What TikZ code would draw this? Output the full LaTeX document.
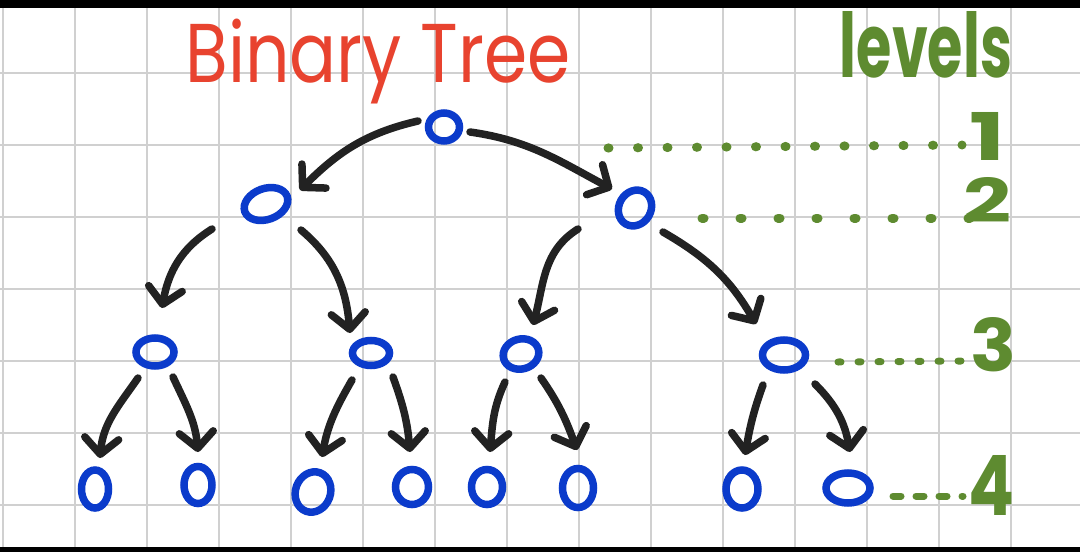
\documentclass[tikz,border=0pt]{standalone}
\usepackage{fontspec}
\setmainfont{Poppins}
\usetikzlibrary{shapes.geometric,arrows.meta}
\definecolor{nblue}{HTML}{0B3BCB}
\definecolor{ink}{HTML}{222222}
\definecolor{tred}{HTML}{E8432F}
\definecolor{lgreen}{HTML}{5E8B30}
\definecolor{gridc}{HTML}{D0D0D0}
\begin{document}
\begin{tikzpicture}[x=1pt,y=1pt,
  gridline/.style={draw=gridc,line width=1.8pt},
  onode/.style={ellipse,draw=nblue,line width=7.5pt,inner sep=0pt},
  arr/.style={draw=ink,line width=7.5pt,line cap=round,line join=round,
    -{Straight Barb[length=16pt,width=34pt,round]}},
  txt/.style={inner sep=0pt,outer sep=0pt,font=\bfseries},
  dots/.style={draw=lgreen,line width=9pt,line cap=round},
]
\useasboundingbox (0,0) rectangle (1080,-552);
\fill[white] (0,0) rectangle (1080,-552);
% grid
\foreach \k in {0,...,14} \draw[gridline] ({3+72*\k},0) -- ({3+72*\k},-552);
\foreach \k in {0,...,7} \draw[gridline] (0,{-1-72*\k}) -- (1080,{-1-72*\k});
% black bars
\fill[black] (0,0) rectangle (1080,-8);
\fill[black] (0,-547) rectangle (1080,-552);

% titles
\node[txt,text=tred,font=\mdseries] (title) at (378,-62) {\resizebox*{385pt}{85pt}{Binary Tree}};
\node[txt,text=lgreen] (lv) at (926,-45) {\resizebox{172pt}{66pt}{levels}};
\node[txt,text=lgreen] (n1) at (988,-136) {\resizebox{36pt}{48pt}{1}};
\node[txt,text=lgreen] (n2) at (988,-200) {\resizebox{48pt}{45pt}{2}};
\node[txt,text=lgreen] (n3) at (994,-345) {\resizebox{46pt}{54pt}{3}};
\node[txt,text=lgreen] (n4) at (991,-485) {\resizebox{46pt}{60pt}{4}};

% nodes
\node[onode,minimum width=31,minimum height=28] (r) at (444,-127) {};
\node[onode,minimum width=45,minimum height=31,rotate=20] (a) at (266,-204) {};
\node[onode,minimum width=37,minimum height=32,rotate=60] (b) at (635,-208) {};
\node[onode,minimum width=38,minimum height=28] (c1) at (155,-352) {};
\node[onode,minimum width=37,minimum height=25] (c2) at (371,-353) {};
\node[onode,minimum width=36,minimum height=30,rotate=15] (c3) at (521,-354) {};
\node[onode,minimum width=43,minimum height=30] (c4) at (784,-355) {};
\node[onode,minimum width=27,minimum height=38] (d1) at (95,-489) {};
\node[onode,minimum width=28,minimum height=37] (d2) at (198,-485) {};
\node[onode,minimum width=35,minimum height=41,rotate=-20] (d3) at (313,-492) {};
\node[onode,minimum width=33,minimum height=35] (d4) at (412,-487) {};
\node[onode,minimum width=31,minimum height=35] (d5) at (487,-487) {};
\node[onode,minimum width=31,minimum height=39] (d6) at (578,-488) {};
\node[onode,minimum width=32,minimum height=38] (d7) at (742,-489) {};
\node[onode,minimum width=44,minimum height=30] (d8) at (848,-488) {};

% connectors
\draw[arr] ([shift={(-26,6)}]r.center) to[out=193,in=45] ([shift={(34,14)}]a.center);
\draw[arr] ([shift={(26,-5)}]r.center) to[out=-8,in=152] ([shift={(-23,19)}]b.center);
\draw[arr] ([shift={(-54,-25)}]a.center) to[out=212,in=80] ([shift={(7,44)}]c1.center);
\draw[arr] ([shift={(35,-26)}]a.center) to[out=-40,in=95] ([shift={(-21,20)}]c2.center);
\draw[arr] ([shift={(-57,-21)}]b.center) to[out=212,in=75] ([shift={(12,29)}]c3.center);
\draw[arr] ([shift={(28,-24)}]b.center) to[out=-30,in=120] ([shift={(-28,31)}]c4.center);
\draw[arr] ([shift={(-17,-26)}]c1.center) to[out=235,in=85] ([shift={(5,31)}]d1.center);
\draw[arr] ([shift={(18,-25)}]c1.center) to[out=-65,in=95] ([shift={(0,33)}]d2.center);
\draw[arr] ([shift={(-19,-27)}]c2.center) to[out=240,in=80] ([shift={(9,35)}]d3.center);
\draw[arr] ([shift={(22,-24)}]c2.center) to[out=-70,in=95] ([shift={(-2,35)}]d4.center);
\draw[arr] ([shift={(-16,-28)}]c3.center) to[out=245,in=85] ([shift={(3,35)}]d5.center);
\draw[arr] ([shift={(20,-24)}]c3.center) to[out=-55,in=110] ([shift={(-1,38)}]d6.center);
\draw[arr] ([shift={(-21,-30)}]c4.center) to[out=250,in=80] ([shift={(3,34)}]d7.center);
\draw[arr] ([shift={(31,-29)}]c4.center) to[out=-45,in=100] ([shift={(2,36)}]d8.center);

% level guide dots
\draw[dots,dash pattern=on 1pt off 28.5pt] ([shift={(164,-21)}]r.center) -- ([shift={(-26,-9)}]n1.center);
\draw[dots,dash pattern=on 2pt off 36pt] ([shift={(67,-10)}]b.center) -- ([shift={(-18,-18)}]n2.center);
\draw[dots,line width=7pt,dash pattern=on 3pt off 17pt] ([shift={(54,-7)}]c4.center) -- ([shift={(-30,-16)}]n3.center);
\draw[dots,line width=7pt,dash pattern=on 8pt off 15pt] ([shift={(45,-8)}]d8.center) -- ([shift={(-28,-11)}]n4.center);
\end{tikzpicture}
\end{document}
